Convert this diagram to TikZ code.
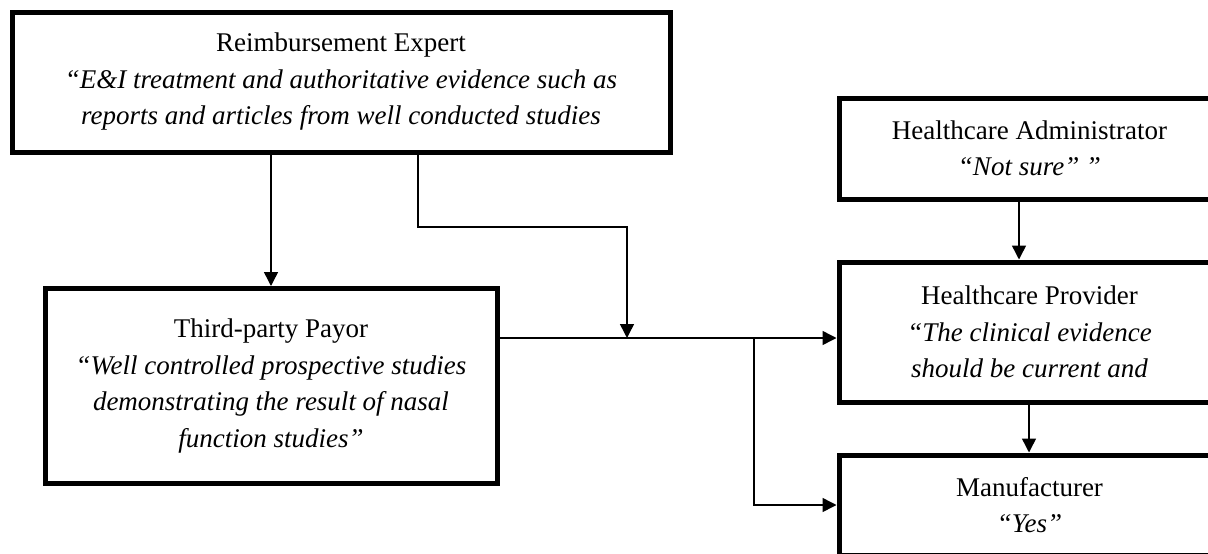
\documentclass[tikz,border=0pt]{standalone}
\usepackage{fontspec}
\setmainfont{Liberation Serif}
\usetikzlibrary{arrows.meta}
\begin{document}
\begin{tikzpicture}[x=1pt,y=-1pt,
  box/.style={draw=black,line width=5pt,rectangle,inner sep=0pt,align=center,
    font=\fontsize{27}{36.5}\selectfont},
  conn/.style={draw=black,line width=1.5pt},
  arr/.style={conn,-{Triangle[length=14pt,width=14pt]}}]
\useasboundingbox (0,0) rectangle (1208,554);
\clip (0,0) rectangle (1208,554);
\node[box,minimum width=658pt,minimum height=140pt] (expert) at (341,82)
  {Reimbursement Expert\\\textit{“E\&I treatment and authoritative evidence such as}\\\textit{reports and articles from well conducted studies}};
\node[box,minimum width=452pt,minimum height=195pt] (payor) at (271,386)
  {Third-party Payor\\\textit{“Well controlled prospective studies}\\\textit{demonstrating the result of nasal}\\\textit{function studies”}};
\node[box,minimum width=381pt,minimum height=101pt] (admin) at (1029.5,148.5)
  {Healthcare Administrator\\\textit{“Not sure” ”}};
\node[box,minimum width=381pt,minimum height=140pt] (provider) at (1029.5,332)
  {Healthcare Provider\\\textit{“The clinical evidence}\\\textit{should be current and}};
\node[box,minimum width=381pt,minimum height=100pt] (manuf) at (1029.5,505)
  {Manufacturer\\\textit{“Yes”}};
\coordinate (j) at (627,338);
\coordinate (b) at (754,338);
\coordinate (k) at (418,227);
% expert to payor
\draw[arr] (expert.south -| payor.north) -- (payor.north);
% expert to junction
\draw[arr] (expert.south -| k) -- (k) -| (j);
% payor to provider
\draw[arr] (payor.east |- j) -- (provider.west |- j);
% branch to manufacturer
\draw[arr] (b) |- (manuf.west);
% admin to provider
\draw[arr] (admin.south -| 1019,0) -- (provider.north -| 1019,0);
% provider to manufacturer
\draw[arr] (provider.south -| 1029,0) -- (manuf.north -| 1029,0);
\end{tikzpicture}
\end{document}
